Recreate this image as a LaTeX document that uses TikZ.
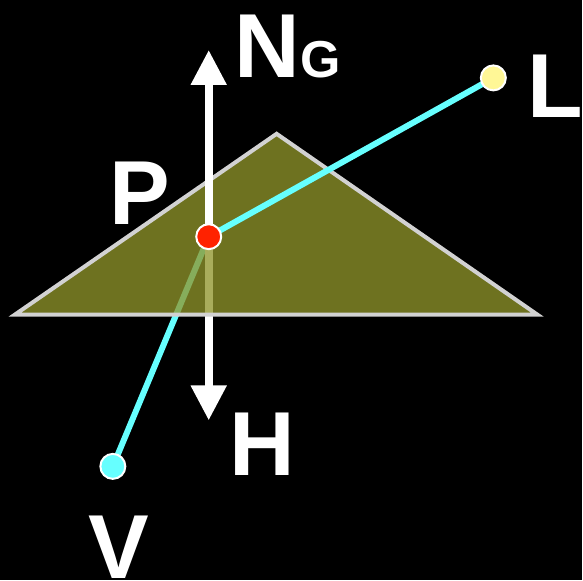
\documentclass[tikz,border=0pt]{standalone}
\usepackage{fontspec}
\setmainfont{Liberation Sans}
\usepackage{xcolor}
\usetikzlibrary{arrows.meta}

\definecolor{raycyan}{RGB}{102,255,255}
\definecolor{pointred}{RGB}{255,34,0}
\definecolor{lightyel}{RGB}{255,247,150}
\definecolor{olive}{RGB}{144,149,42}
\definecolor{edgegray}{RGB}{210,210,210}

\begin{document}
\begin{tikzpicture}[
      x=1pt, y=-1pt,
      ray/.style={draw=raycyan, line width=6pt},
      normal/.style={draw=white, line width=8pt, -{Triangle[width=34pt,length=35pt]}, white},
      dot/.style={circle, draw=white, line width=2pt, minimum size=25pt, inner sep=0pt},
      lbl/.style={text=white, inner sep=0pt, anchor=base west, font=\bfseries\fontsize{91}{91}\selectfont}
    ]
    \fill[black] (0,0) rectangle (583,581);

    % points and arrow ends
    \coordinate (P) at (209,237);
    \coordinate (L) at (494,78);
    \coordinate (V) at (113,467);
    \coordinate (ng) at (209,50);
    \coordinate (h) at (209,421);
    \coordinate (t1) at (15,315);
    \coordinate (t2) at (277,134);
    \coordinate (t3) at (538,315);

    % below the surface
    \draw[ray] (V) -- (P);
    \draw[normal] (P) -- (h);

    % surface
    \filldraw[fill=olive, fill opacity=0.77, draw=edgegray, line width=4pt, line join=miter]
      (t1) -- (t2) -- (t3) -- cycle;

    % above the surface
    \draw[ray] (P) -- (L);
    \draw[normal] (P) -- (ng);

    \node[dot, fill=pointred] (pdot) at (P) {};
    \node[dot, fill=lightyel] (ldot) at (L) {};
    \node[dot, fill=raycyan] (vdot) at (V) {};

    \node[lbl] (nlbl) at (235,78) {N{\fontsize{52}{52}\selectfont G}};
    \node[lbl] (hlbl) at (230,476) {H};
    \node[lbl] (plbl) at (109,225) {P};
    \node[lbl] (llbl) at (528,118) {L};
    \node[lbl] (vlbl) at (88,579) {V};
  \end{tikzpicture}
\end{document}
